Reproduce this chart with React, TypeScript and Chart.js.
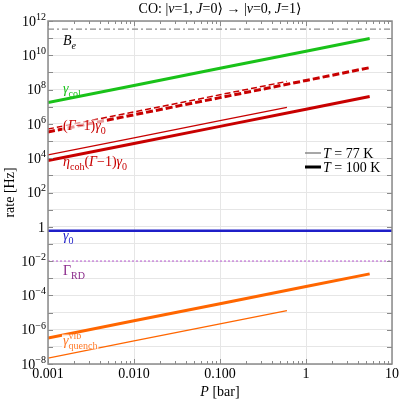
import React, { useEffect, useRef } from "react";
import { Chart, registerables } from "chart.js";
Chart.register(...registerables);

// ---- data ----
const pThin = [0.001, 0.01, 0.1, 0.6]; // T = 77 K
const pThick = [0.001, 0.01, 0.1, 1, 5.5]; // T = 100 K
const colThin = [1.74e7, 1.74e8, 1.74e9, 1.04e10];
const colThick = [1.74e7, 1.74e8, 1.74e9, 1.74e10, 9.6e10];
const gmThin = [5.0e5, 5.0e6, 5.0e7, 3.0e8];
const gmThick = [3.4e5, 3.4e6, 3.4e7, 3.4e8, 1.9e9];
const etaThin = [1.55e4, 1.55e5, 1.55e6, 9.3e6];
const etaThick = [7.2e3, 7.2e4, 7.2e5, 7.2e6, 4.0e7];
const quenchThin = [2.2e-8, 2.2e-7, 2.2e-6, 1.3e-5];
const quenchThick = [3.3e-7, 3.3e-6, 3.3e-5, 3.3e-4, 1.8e-3];
const pRange = [0.001, 10];
const Be = 3.4e11;
const gamma0 = 0.59;
const GammaRD = 0.01;
const xTicks = [0.001, 0.01, 0.1, 1, 10];
const xTickLabels = ["0.001", "0.010", "0.100", "1", "10"];
const yTickExps = [12, 10, 8, 6, 4, 2, 0, -2, -4, -6, -8];
const yGridExps = [-8, -7, -6, -5, -4, -3, -2, -1, 0, 1, 2, 3, 4, 5, 6, 7, 8, 9, 10, 11, 12];

const GREEN = "#19c219";
const RED = "#c80000";
const BLUE = "#1f1fc8";
const ORANGE = "#ff6600";
const FRAME = "#8a8a8a";

type Seg = { t?: string; it?: boolean; sub?: boolean; sup?: boolean; stack?: [string, string] };

function fnt(size: number, it?: boolean) {
  return `${it ? "italic " : ""}${size}px 'Liberation Serif', 'DejaVu Serif', serif`;
}

function drawRich(
  ctx: CanvasRenderingContext2D,
  segs: Seg[],
  x: number,
  y: number,
  size: number,
  color: string,
  align: "left" | "center" | "right" = "left",
  bg?: string
) {
  const small = Math.round(size * 0.72);
  const widths = segs.map((s) => {
    if (s.stack) {
      ctx.font = fnt(small);
      return Math.max(ctx.measureText(s.stack[0]).width, ctx.measureText(s.stack[1]).width);
    }
    ctx.font = fnt(s.sub || s.sup ? small : size, s.it);
    return ctx.measureText(s.t || "").width;
  });
  const total = widths.reduce((a, b) => a + b, 0);
  let cx = align === "left" ? x : align === "center" ? x - total / 2 : x - total;
  if (bg) {
    ctx.fillStyle = bg;
    ctx.fillRect(cx - 1, y - size * 0.75, total + 2, size * 1.05);
  }
  ctx.fillStyle = color;
  ctx.textAlign = "left";
  ctx.textBaseline = "alphabetic";
  segs.forEach((s, i) => {
    if (s.stack) {
      ctx.font = fnt(small);
      ctx.fillText(s.stack[0], cx, y - size * 0.45);
      ctx.fillText(s.stack[1], cx, y + size * 0.3);
    } else {
      ctx.font = fnt(s.sub || s.sup ? small : size, s.it);
      const dy = s.sub ? size * 0.25 : s.sup ? -size * 0.42 : 0;
      ctx.fillText(s.t || "", cx, y + dy);
    }
    cx += widths[i];
  });
}

const pts = (p: number[], v: number[]) => p.map((x, i) => ({ x, y: v[i] }));
const hline = (v: number) => pRange.map((x) => ({ x, y: v }));

function ds(data: { x: number; y: number }[], color: string, width: number, dash: number[] = []) {
  return {
    data,
    borderColor: color,
    borderWidth: width,
    borderDash: dash,
    pointRadius: 0,
    fill: false,
    tension: 0,
    borderCapStyle: "butt" as const,
  };
}

const overlay = {
  id: "overlay",
  afterDraw(chart: any) {
    const ctx: CanvasRenderingContext2D = chart.ctx;
    const { left, right, top, bottom } = chart.chartArea;
    const xs = chart.scales.x;
    const ys = chart.scales.y;
    ctx.save();

    // frame
    ctx.strokeStyle = FRAME;
    ctx.lineWidth = 1.5;
    ctx.strokeRect(left, top, right - left, bottom - top);

    // ticks
    ctx.lineWidth = 1;
    ctx.beginPath();
    for (const e of yGridExps) {
      const y = Math.round(ys.getPixelForValue(Math.pow(10, e))) + 0.5;
      ctx.moveTo(left, y); ctx.lineTo(left + 5, y);
      ctx.moveTo(right, y); ctx.lineTo(right - 5, y);
    }
    for (let d = -3; d < 1; d++) {
      for (let m = 1; m <= 9; m++) {
        const v = m * Math.pow(10, d);
        const x = Math.round(xs.getPixelForValue(v)) + 0.5;
        const len = m === 1 ? 5 : 3;
        ctx.moveTo(x, bottom); ctx.lineTo(x, bottom - len);
        ctx.moveTo(x, top); ctx.lineTo(x, top + len);
      }
    }
    ctx.stroke();

    // y tick labels
    for (const e of yTickExps) {
      const y = ys.getPixelForValue(Math.pow(10, e));
      if (e === 0) {
        drawRich(ctx, [{ t: "1" }], 45, y + 4.7, 14, "#000", "right");
      } else {
        drawRich(ctx, [{ t: "10" }, { t: e < 0 ? "\u2212" + -e : String(e), sup: true }], 46, y + 4.7, 14, "#000", "right");
      }
    }
    // x tick labels
    xTicks.forEach((v, i) => {
      const x = xs.getPixelForValue(v);
      drawRich(ctx, [{ t: xTickLabels[i] }], x, 378, 14, "#000", "center");
    });

    // axis titles
    drawRich(ctx, [{ t: "P", it: true }, { t: " [bar]" }], (left + right) / 2, 396, 14, "#000", "center");
    ctx.save();
    ctx.translate(14, (top + bottom) / 2);
    ctx.rotate(-Math.PI / 2);
    drawRich(ctx, [{ t: "rate [Hz]" }], 0, 0, 14, "#000", "center");
    ctx.restore();

    // title
    drawRich(
      ctx,
      [
        { t: "CO: |" }, { t: "v", it: true }, { t: "=1, " }, { t: "J", it: true }, { t: "=0\u27E9 \u2192 |" },
        { t: "v", it: true }, { t: "=0, " }, { t: "J", it: true }, { t: "=1\u27E9" },
      ],
      (left + right) / 2, 13, 14, "#000", "center"
    );

    // curve labels
    drawRich(ctx, [{ t: "B", it: true }, { t: "e", it: true, sub: true }], 63, 45, 14, "#000");
    drawRich(ctx, [{ t: "\u03B3", it: true }, { t: "col", sub: true }], 63, 93, 14, GREEN);
    drawRich(
      ctx,
      [{ t: "(" }, { t: "\u0393", it: true }, { t: "\u22121)" }, { t: "\u03B3", it: true }, { t: "0", sub: true }],
      63, 130, 14, RED, "left", "rgba(255,255,255,0.6)"
    );
    drawRich(
      ctx,
      [{ t: "\u03B7", it: true }, { t: "coh", sub: true }, { t: "(" }, { t: "\u0393", it: true }, { t: "\u22121)" }, { t: "\u03B3", it: true }, { t: "0", sub: true }],
      63, 166, 14, RED
    );
    drawRich(ctx, [{ t: "\u03B3", it: true }, { t: "0", sub: true }], 63, 240, 14, BLUE);
    drawRich(ctx, [{ t: "\u0393" }, { t: "RD", sub: true }], 63, 275, 14, "#8b2a8b");
    drawRich(ctx, [{ t: "\u03B3", it: true }, { stack: ["vib", "quench"] }], 63, 345, 14, "#ff7a28", "left", "rgba(255,255,255,0.85)");

    // legend
    ctx.strokeStyle = "#777";
    ctx.lineWidth = 1.3;
    ctx.beginPath(); ctx.moveTo(305, 153); ctx.lineTo(321, 153); ctx.stroke();
    ctx.strokeStyle = "#000";
    ctx.lineWidth = 3;
    ctx.beginPath(); ctx.moveTo(305, 167); ctx.lineTo(321, 167); ctx.stroke();
    drawRich(ctx, [{ t: "T", it: true }, { t: " = 77 K" }], 323, 158, 14, "#000");
    drawRich(ctx, [{ t: "T", it: true }, { t: " = 100 K" }], 323, 172, 14, "#000");

    ctx.restore();
  },
};

export default function App() {
  const ref = useRef<HTMLCanvasElement>(null);
  useEffect(() => {
    if (!ref.current) return;
    const chart = new Chart(ref.current, {
      type: "line",
      data: {
        datasets: [
          ds(hline(Be), "#8a8a8a", 1.2, [6, 3, 2, 3]),
          ds(pts(pThick, colThick), GREEN, 3),
          ds(pts(pThin, colThin), GREEN, 1.3),
          ds(pts(pThick, gmThick), RED, 3, [7, 3]),
          ds(pts(pThin, gmThin), RED, 1.5, [6, 3]),
          ds(pts(pThick, etaThick), RED, 3),
          ds(pts(pThin, etaThin), RED, 1.3),
          ds(hline(gamma0), BLUE, 2.5),
          ds(hline(GammaRD), "#cc90dc", 1.6, [2, 2]),
          ds(pts(pThick, quenchThick), ORANGE, 3),
          ds(pts(pThin, quenchThin), ORANGE, 1.3),
        ] as any,
      },
      options: {
        animation: false,
        responsive: false,
        devicePixelRatio: 1,
        parsing: false as any,
        layout: { padding: { left: 48, right: 7, top: 21, bottom: 37 } },
        plugins: { legend: { display: false }, tooltip: { enabled: false }, title: { display: false } },
        scales: {
          x: {
            type: "logarithmic",
            min: pRange[0],
            max: pRange[1],
            afterBuildTicks: (s: any) => { s.ticks = xTicks.map((v) => ({ value: v })); },
            ticks: { display: false },
            grid: { color: "#e6e6e6", drawTicks: false, lineWidth: 1 },
            border: { display: false },
          },
          y: {
            type: "logarithmic",
            min: 1e-8,
            max: 1e12,
            afterBuildTicks: (s: any) => { s.ticks = yGridExps.map((e) => ({ value: Math.pow(10, e) })); },
            ticks: { display: false },
            grid: { color: "#e6e6e6", drawTicks: false, lineWidth: 1 },
            border: { display: false },
          },
        } as any,
      },
      plugins: [overlay],
    });
    return () => chart.destroy();
  }, []);
  return (
    <div style={{ position: "fixed", left: 0, top: 0, width: 399, height: 401, background: "#fff" }}>
      <canvas ref={ref} width={399} height={401} style={{ width: 399, height: 401, display: "block" }} />
    </div>
  );
}
